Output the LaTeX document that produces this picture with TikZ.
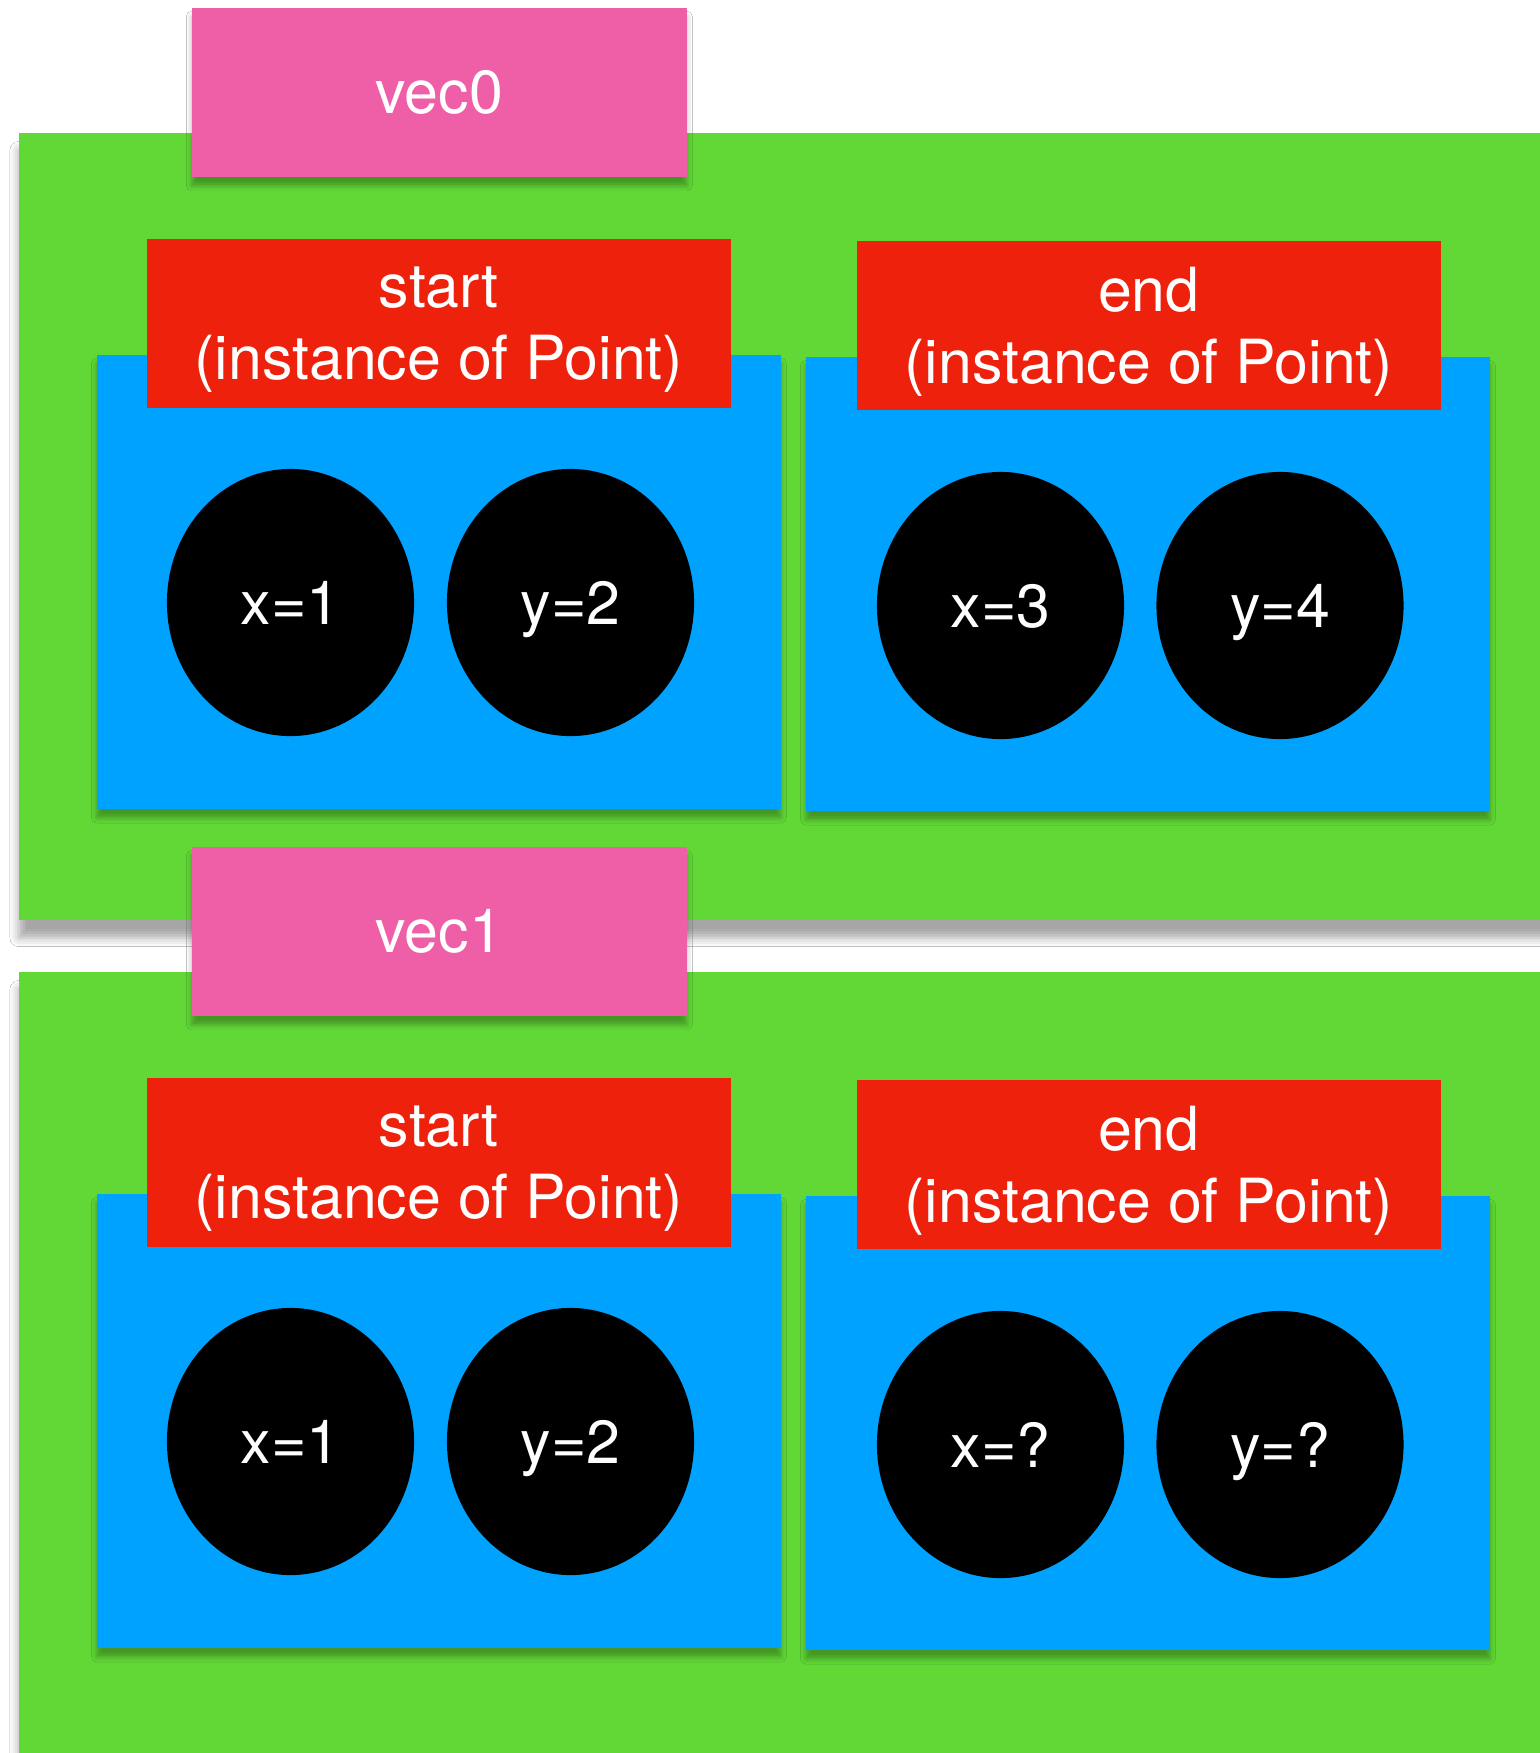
\documentclass[tikz,border=0pt]{standalone}
\usepackage{fontspec}
\setmainfont{TeX Gyre Heros}
\usepackage{xcolor}
\usetikzlibrary{positioning,shapes.geometric,shadows.blur}

\definecolor{vecgreen}{HTML}{61D836}
\definecolor{vecpink}{HTML}{EF5FA7}
\definecolor{ptred}{HTML}{EE220C}
\definecolor{ptblue}{HTML}{00A2FF}

\tikzset{
  softshadow/.style={blur shadow={shadow xshift=0pt,shadow yshift=-2.5pt,
      shadow blur radius=1.5pt,shadow opacity=30}},
  vecarea/.style={anchor=north west,fill=vecgreen,inner sep=0pt,
    minimum width=15.4cm,minimum height=7.87cm,
    blur shadow={shadow xshift=0pt,shadow yshift=-5pt,
      shadow blur radius=2.5pt,shadow opacity=35}},
  vecname/.style={anchor=north west,fill=vecpink,inner sep=0pt,
    minimum width=4.95cm,minimum height=1.69cm,softshadow},
  ptarea/.style={anchor=north west,fill=ptblue,inner sep=0pt,
    minimum width=6.84cm,minimum height=4.54cm,softshadow},
  ptname/.style={anchor=north west,fill=ptred,inner sep=0pt,align=center,
    text depth=0pt,minimum width=5.84cm,minimum height=1.69cm},
  field/.style={ellipse,fill=black,inner sep=0pt,text depth=0pt,
    minimum width=2.47cm,minimum height=2.67cm}
}

\begin{document}
\begin{tikzpicture}[x=0.01cm,y=-0.01cm,text=white,
    font=\fontsize{17.3}{20.4}\selectfont]
  \useasboundingbox (0,0) rectangle (1540,1753);
  \fill[white] (0,0) rectangle (1540,1753);

  % vec0
  \node[vecarea] (green0) at (18,132) {};
  \node[vecname] (vec0) at (191,7) {vec0};
  \node[ptarea] (blue00) at (96,354) {};
  \node[ptarea] (blue01) at (805,356) {};
  \node[ptname] (start0) at (146,238) {start\\(instance of Point)};
  \node[ptname] (end0) at (856,240) {end\\(instance of Point)};
  \node[field] (x0) at (290.5,602.5) {x=1};
  \node[field] (y0) at (570.5,602.5) {y=2};
  \node[field] (x1) at (1000.5,605.5) {x=3};
  \node[field] (y1) at (1280,605.5) {y=4};

  % vec1
  \node[vecarea] (green1) at (18,971) {};
  \node[vecname] (vec1) at (191,846) {vec1};
  \node[ptarea] (blue10) at (96,1193) {};
  \node[ptarea] (blue11) at (805,1195) {};
  \node[ptname] (start1) at (146,1077) {start\\(instance of Point)};
  \node[ptname] (end1) at (856,1079) {end\\(instance of Point)};
  \node[field] (x2) at (290.5,1441.5) {x=1};
  \node[field] (y2) at (570.5,1441.5) {y=2};
  \node[field] (x3) at (1000.5,1444.5) {x=?};
  \node[field] (y3) at (1280,1444.5) {y=?};
\end{tikzpicture}
\end{document}
